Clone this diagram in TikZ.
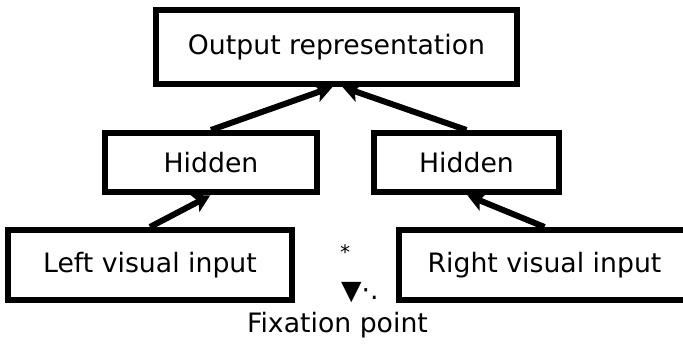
\documentclass[tikz,border=0pt]{standalone}
\usepackage{fontspec}
\setmainfont{DejaVu Sans}
\usepackage{tikz}
\usetikzlibrary{arrows.meta}

\begin{document}
\begin{tikzpicture}[x=1pt, y=-1pt,
    box/.style={draw, line width=6pt, inner sep=0pt, align=center,
                font=\fontsize{26.7}{32}\selectfont},
    feed/.style={-{Stealth[length=17pt, width=19pt, inset=4pt]}, line width=6pt}]
    \useasboundingbox (0,0) rectangle (683,344);
    % nodes
    \node (out) [box, minimum width=361pt, minimum height=74pt] at (336.5,47) {Output representation};
    \node (hidL) [box, minimum width=212pt, minimum height=59pt] at (211,162.5) {Hidden};
    \node (hidR) [box, minimum width=185pt, minimum height=59pt] at (466.5,162.5) {Hidden};
    \node (inL) [box, minimum width=284pt, minimum height=70pt] at (150,265) {Left visual input};
    \node (inR) [box, minimum width=291pt, minimum height=70pt] at (544.5,265) {Right visual input};
    \node (star) [anchor=base, inner sep=0pt, font=\fontsize{20}{22}\selectfont] at (345,260) {*};
    \node (mark) [anchor=base west, inner sep=0pt, font=\fontsize{26.7}{32}\selectfont] at (341,300) {▼·.};
    \node (fix) [anchor=base, inner sep=0pt, font=\fontsize{26.7}{32}\selectfont] at (337.5,333) {Fixation point};
    % arrows
    \draw[feed] (hidL.north) -- ([xshift=-4pt]out.south);
    \draw[feed] (hidR.north) -- ([xshift=6pt]out.south);
    \draw[feed, shorten >=1pt] (inL.north) -- (hidL.south);
    \draw[feed, shorten >=1pt] (inR.north) -- (hidR.south);
\end{tikzpicture}
\end{document}
